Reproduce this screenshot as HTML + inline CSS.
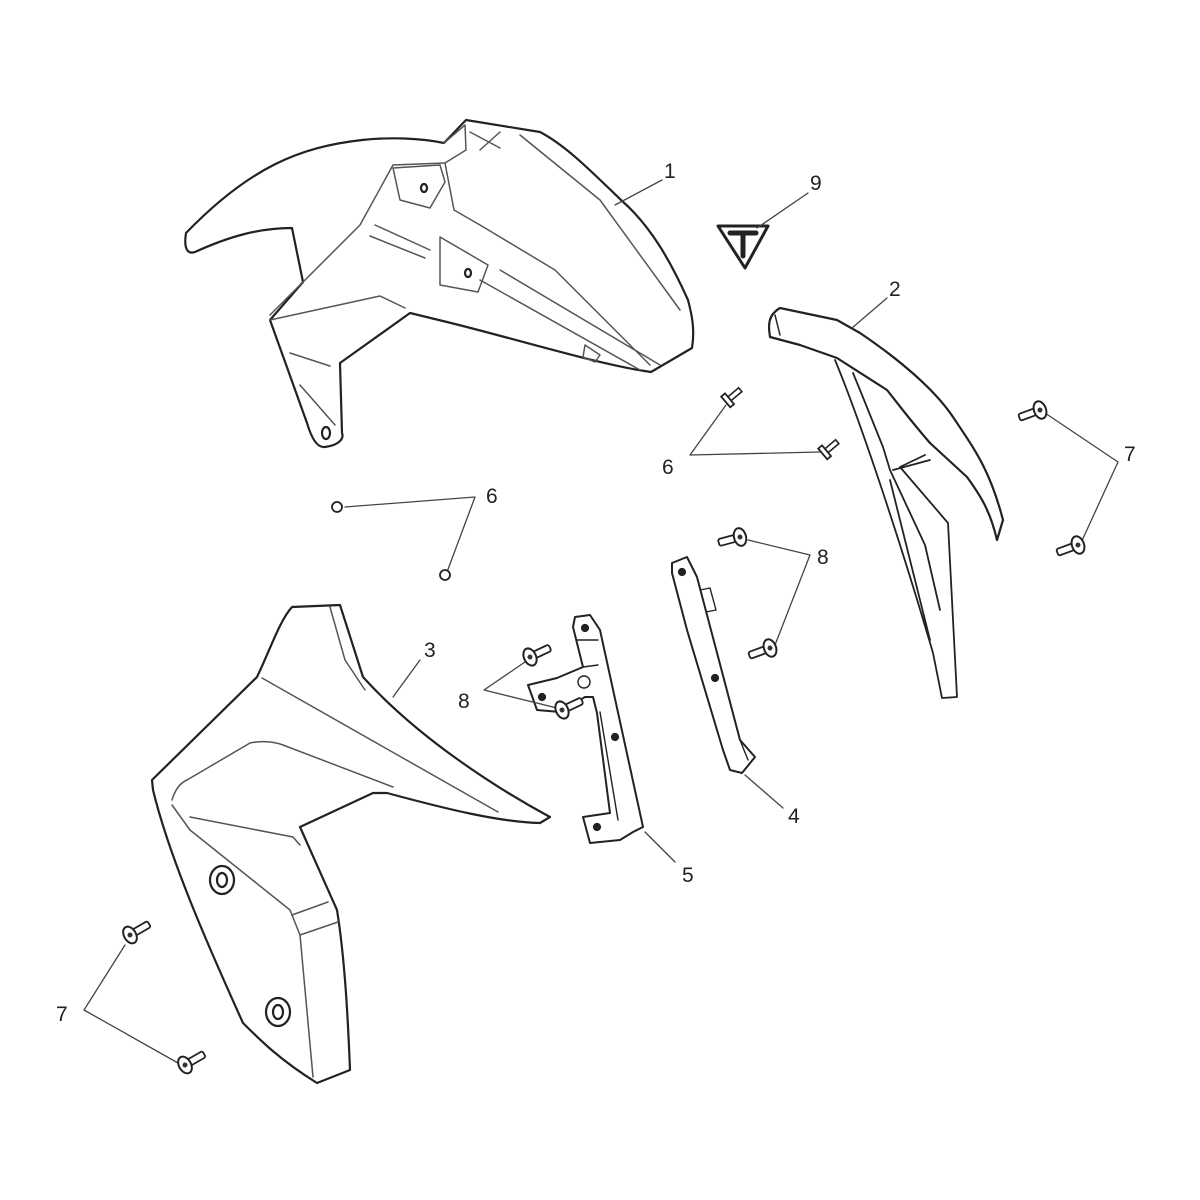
<!DOCTYPE html>
<html><head><meta charset="utf-8"><style>
html,body{margin:0;padding:0;background:#fff;}
svg{display:block}
text{font-family:"Liberation Sans",sans-serif;font-size:21px;fill:#222}
</style></head><body>
<svg width="1200" height="1200" viewBox="0 0 1200 1200" xmlns="http://www.w3.org/2000/svg">
<defs>
<g id="scr">
  <rect x="4" y="-3.5" width="18" height="7" rx="2" fill="#fff" stroke="#222" stroke-width="1.8"/>
  <ellipse cx="0" cy="0" rx="6" ry="9" fill="#fff" stroke="#222" stroke-width="2"/>
  <circle cx="0" cy="0" r="2.5" fill="#333"/>
</g>
<g id="pin">
  <rect x="2" y="-2.5" width="14" height="5" fill="#fff" stroke="#222" stroke-width="1.6"/>
  <rect x="-3" y="-7" width="5" height="14" fill="#fff" stroke="#222" stroke-width="1.8"/>
</g>
</defs>
<g fill="none" stroke="#222" stroke-width="2.2" stroke-linejoin="round" stroke-linecap="round">
<!-- Part 1 -->
<path d="M186,233 C184,246 186,255 195,252 C230,236 260,228 292,228 L303,282 L270,320 L307,423 C312,440 318,448 325,447 C340,445 344,438 342,433 L340,363 L410,313 L447,322 C520,340 600,365 651,372 L692,348 C695,330 692,315 688,300 C670,260 650,225 621,200 C590,170 565,145 540,132 L466,120 L444,143 C420,138 390,137 362,140 C300,147 250,167 186,233 Z"/>
<g stroke="#555" stroke-width="1.5">
<path d="M444,143 L465,125 L466,150 L445,163 L393,165 L360,225 L270,315"/>
<path d="M445,163 L454,210 L480,225 L555,270 L650,365"/>
<path d="M470,132 L500,148 M500,132 L480,150 M520,135 L600,200 L680,310"/>
<path d="M393,168 L440,165 L445,182 L430,208 L400,200 Z"/>
<path d="M440,237 L488,265 L478,292 L440,285 Z"/>
<path d="M375,225 L430,250 M370,236 L425,258"/>
<path d="M270,320 L380,296 L405,308"/>
<path d="M290,353 L330,366 M300,385 L335,425"/>
<path d="M480,280 L640,370 M500,270 L660,365"/>
<path d="M585,345 L600,355 L595,362 L583,357 Z"/>
</g>
<ellipse cx="424" cy="188" rx="3" ry="4"/>
<ellipse cx="468" cy="273" rx="3" ry="4"/>
<ellipse cx="326" cy="433" rx="4" ry="6"/>
<!-- Part 9 badge -->
<path d="M718,226 L768,226 L745,268 Z" stroke-width="3"/>
<path d="M730,233 L756,233 M743,233 L743,256" stroke-width="5" stroke="#222"/>
<!-- Part 2 -->
<path d="M780,308 L837,320 L860,333 C900,360 935,390 953,417 C975,450 990,470 1003,520 L997,540 C990,510 980,495 967,477 L930,443 C910,420 895,400 887,390 L837,358 L800,345 L770,337 C768,325 768,315 780,308 Z"/>
<path d="M775,315 L780,335" stroke-width="1.5"/>
<path d="M835,360 C860,420 900,540 933,653 L942,698 L957,697 L948,523 L900,467 L925,455 M853,373 L860,390 L883,447 L890,470 L925,545 L940,610 M893,470 L930,460 M890,480 L900,520 L930,640" stroke-width="1.8"/>
<!-- Part 3 -->
<path d="M292,607 L340,605 L363,677 C420,740 500,790 550,817 L540,823 C500,822 450,810 387,793 L373,793 L300,827 L337,910 C345,960 348,1020 350,1070 L317,1083 C280,1060 260,1040 243,1023 C210,950 170,860 153,790 L152,780 L257,677 C270,650 280,620 292,607 Z"/>
<g stroke="#555" stroke-width="1.5">
<path d="M262,678 L498,812"/>
<path d="M172,800 C175,790 180,783 187,780 L250,743 C265,740 275,742 283,745 L393,787"/>
<path d="M190,817 L293,837 L300,845"/>
<path d="M172,805 L190,830 L290,910 L300,935 L313,1077"/>
<path d="M292,915 L328,902 M300,935 L338,922"/>
<path d="M330,607 L345,660 L365,690"/>
</g>
<ellipse cx="222" cy="880" rx="12" ry="14"/><ellipse cx="222" cy="880" rx="5" ry="7"/>
<ellipse cx="278" cy="1012" rx="12" ry="14"/><ellipse cx="278" cy="1012" rx="5" ry="7"/>
<!-- Part 5 -->
<path d="M575,617 L590,615 L600,630 L643,827 L633,832 L620,840 L590,843 L583,817 L610,813 L597,713 L593,697 L585,697 L560,712 L537,710 L528,685 L557,678 L583,667 L573,627 Z" stroke-width="2"/>
<path d="M583,667 L598,665 M577,640 L598,640 M600,712 L618,820" stroke-width="1.4"/>
<circle cx="584" cy="682" r="6" stroke-width="1.4"/>
<circle cx="585" cy="628" r="3" fill="#222"/><circle cx="542" cy="697" r="3" fill="#222"/><circle cx="615" cy="737" r="3" fill="#222"/><circle cx="597" cy="827" r="3" fill="#222"/>
<!-- Part 4 -->
<path d="M672,563 L687,557 L697,577 L740,740 L755,757 L742,773 L730,770 L723,750 L687,630 L672,573 Z" stroke-width="2"/>
<path d="M700,590 L710,588 L716,610 L706,612 M740,740 L748,760" stroke-width="1.4"/>
<circle cx="682" cy="572" r="3" fill="#222"/><circle cx="715" cy="678" r="3" fill="#222"/>
<!-- leaders -->
<g stroke="#444" stroke-width="1.3">
<path d="M662,180 L615,205"/>
<path d="M808,193 L757,228"/>
<path d="M887,298 L852,328"/>
<path d="M726,405 L690,455 L820,452"/>
<path d="M1045,413 L1118,462 L1080,545"/>
<path d="M345,507 L475,497 L447,572"/>
<path d="M748,540 L810,555 L775,645"/>
<path d="M420,660 L393,697"/>
<path d="M525,662 L484,690 L557,708"/>
<path d="M783,808 L745,775"/>
<path d="M675,862 L645,832"/>
<path d="M125,945 L84,1010 L178,1063"/>
</g>
</g>
<!-- screws -->
<use href="#scr" transform="translate(1040,410) rotate(160)"/>
<use href="#scr" transform="translate(1078,545) rotate(160)"/>
<use href="#scr" transform="translate(740,537) rotate(165)"/>
<use href="#scr" transform="translate(770,648) rotate(160)"/>
<use href="#scr" transform="translate(530,657) rotate(-25)"/>
<use href="#scr" transform="translate(562,710) rotate(-25)"/>
<use href="#scr" transform="translate(130,935) rotate(-30)"/>
<use href="#scr" transform="translate(185,1065) rotate(-30)"/>
<use href="#pin" transform="translate(728,400) rotate(-40)"/>
<use href="#pin" transform="translate(825,452) rotate(-40)"/>
<g fill="#fff" stroke="#222" stroke-width="1.8"><circle cx="337" cy="507" r="5"/><circle cx="445" cy="575" r="5"/></g>
<!-- labels -->
<text x="664" y="178">1</text>
<text x="810" y="190">9</text>
<text x="889" y="296">2</text>
<text x="662" y="474">6</text>
<text x="1124" y="461">7</text>
<text x="486" y="503">6</text>
<text x="817" y="564">8</text>
<text x="424" y="657">3</text>
<text x="458" y="708">8</text>
<text x="788" y="823">4</text>
<text x="682" y="882">5</text>
<text x="56" y="1021">7</text>
</svg>
</body></html>
